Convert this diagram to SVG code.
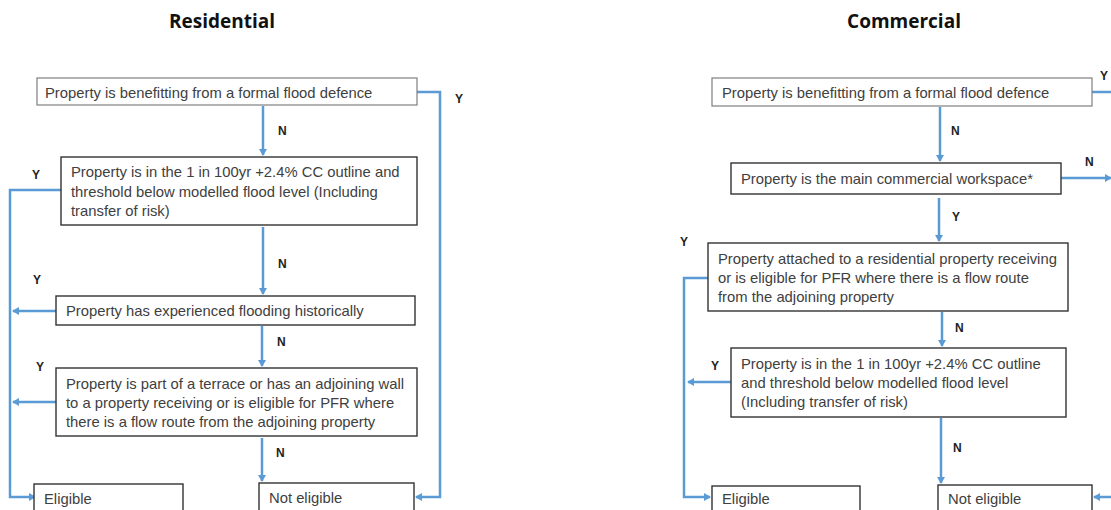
<svg xmlns="http://www.w3.org/2000/svg" width="1111" height="510" viewBox="0 0 1111 510">
<defs>
<marker id="ah" markerWidth="8" markerHeight="8" refX="6" refY="4" orient="auto" markerUnits="userSpaceOnUse">
<path d="M0,0 L7,4 L0,8 Z" fill="#5b9bd5"/>
</marker>
<style>
.box{fill:#fff;stroke:#333;stroke-width:1.4}
.box1{fill:#fff;stroke:#7f7f7f;stroke-width:1.2}
.t{font-family:"Liberation Sans",Arial,sans-serif;font-size:14.8px;fill:#404040}
.lbl{font-family:"Liberation Sans",Arial,sans-serif;font-size:12px;font-weight:bold;fill:#222}
.title{font-family:"Open Sans","Liberation Sans",sans-serif;font-size:19px;font-weight:bold;fill:#111;text-anchor:middle}
.c{fill:none;stroke:#5b9bd5;stroke-width:2.5}
.ca{fill:none;stroke:#5b9bd5;stroke-width:2.5;marker-end:url(#ah)}
</style>
</defs>
<rect width="1111" height="510" fill="#fff"/>
<text class="title" x="222" y="28">Residential</text>
<text class="title" x="904" y="28">Commercial</text>

<g id="connectors">
<!-- Residential -->
<polyline class="ca" points="417,92 440,92 440,497 416,497"/>
<polyline class="ca" points="263,106 263,155"/>
<polyline class="ca" points="61,190 10,190 10,497 35,497"/>
<polyline class="ca" points="263,227 263,294"/>
<polyline class="ca" points="56,311 13,311"/>
<polyline class="ca" points="262,326 262,366"/>
<polyline class="ca" points="56,402 13,402"/>
<polyline class="ca" points="262,438 262,481"/>
<!-- Commercial -->
<polyline class="c" points="1092,92 1111,92"/>
<polyline class="ca" points="940,107 940,161"/>
<polyline class="ca" points="1061,178 1111,178"/>
<polyline class="ca" points="939,198 939,241"/>
<polyline class="ca" points="708,278 684,278 684,497 710,497"/>
<polyline class="ca" points="942,312 942,346"/>
<polyline class="ca" points="731,382 688,382"/>
<polyline class="ca" points="941,418 941,483"/>
<polyline class="ca" points="1111,497 1094,497"/>
<!-- labels -->
<text class="lbl" x="455" y="103">Y</text>
<text class="lbl" x="278" y="135">N</text>
<text class="lbl" x="32" y="179">Y</text>
<text class="lbl" x="278" y="268">N</text>
<text class="lbl" x="33" y="284">Y</text>
<text class="lbl" x="277" y="346">N</text>
<text class="lbl" x="36" y="371">Y</text>
<text class="lbl" x="276" y="457">N</text>
<text class="lbl" x="1100" y="80">Y</text>
<text class="lbl" x="951" y="135">N</text>
<text class="lbl" x="1085" y="166">N</text>
<text class="lbl" x="952" y="221">Y</text>
<text class="lbl" x="680" y="246">Y</text>
<text class="lbl" x="955" y="332">N</text>
<text class="lbl" x="711" y="370">Y</text>
<text class="lbl" x="953" y="452">N</text>
</g>

<!-- Residential nodes -->
<g id="r1"><rect class="box1" x="37" y="78" width="380" height="27"/><text class="t" x="45" y="98">Property is benefitting from a formal flood defence</text></g>
<g id="r2"><rect class="box" x="61" y="157" width="356" height="68"/>
<text class="t" x="71" y="177">Property is in the 1 in 100yr +2.4% CC outline and</text>
<text class="t" x="71" y="197">threshold below modelled flood level (Including</text>
<text class="t" x="71" y="216">transfer of risk)</text></g>
<g id="r3"><rect class="box" x="56" y="296" width="359" height="29"/><text class="t" x="66" y="316">Property has experienced flooding historically</text></g>
<g id="r4"><rect class="box" x="56" y="368" width="361" height="68"/>
<text class="t" x="66" y="389">Property is part of a terrace or has an adjoining wall</text>
<text class="t" x="66" y="408">to a property receiving or is eligible for PFR  where</text>
<text class="t" x="66" y="427">there is a flow route from the adjoining property</text></g>
<g id="r5"><rect class="box" x="34" y="484" width="149" height="32"/><text class="t" x="44" y="504">Eligible</text></g>
<g id="r6"><rect class="box" x="259" y="483" width="155" height="33"/><text class="t" x="269" y="503">Not eligible</text></g>

<!-- Commercial nodes -->
<g id="c1"><rect class="box1" x="712" y="78" width="380" height="28"/><text class="t" x="722" y="98">Property is benefitting from a formal flood defence</text></g>
<g id="c2"><rect class="box" x="731" y="163" width="330" height="31"/><text class="t" x="741" y="184">Property is the main commercial workspace*</text></g>
<g id="c3"><rect class="box" x="708" y="243" width="360" height="68"/>
<text class="t" x="718" y="264">Property attached to a residential property receiving</text>
<text class="t" x="718" y="283">or is eligible for PFR where there is a flow route</text>
<text class="t" x="718" y="302">from the adjoining property</text></g>
<g id="c4"><rect class="box" x="731" y="348" width="335" height="69"/>
<text class="t" x="741" y="369">Property is in the 1 in 100yr +2.4% CC outline</text>
<text class="t" x="741" y="388">and threshold below modelled flood level</text>
<text class="t" x="741" y="407">(Including transfer of risk)</text></g>
<g id="c5"><rect class="box" x="712" y="486" width="148" height="30"/><text class="t" x="722" y="504">Eligible</text></g>
<g id="c6"><rect class="box" x="938" y="485" width="154" height="31"/><text class="t" x="948" y="504">Not eligible</text></g>
</svg>
